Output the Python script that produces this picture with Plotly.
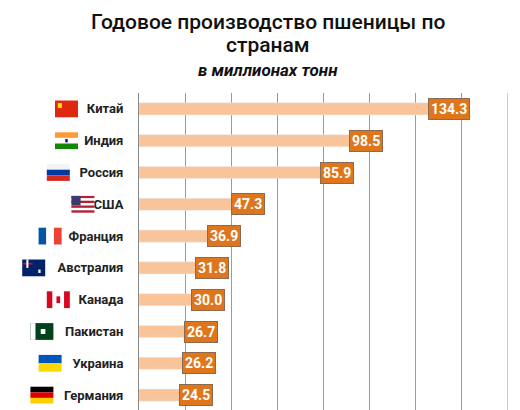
import plotly.graph_objects as go

countries = ["Китай", "Индия", "Россия", "США", "Франция", "Австралия",
             "Канада", "Пакистан", "Украина", "Германия"]
values = [134.3, 98.5, 85.9, 47.3, 36.9, 31.8, 30.0, 26.7, 26.2, 24.5]
flag_kinds = ["cn", "in", "ru", "us", "fr", "au", "ca", "pk", "ua", "de"]

L, R, T, B = 131, 20, 85, 3
W, H = 520, 410
pw = W - L - R
row_px = (H - T - B) / len(countries)

fig = go.Figure(go.Bar(
    x=values, y=countries, orientation="h",
    marker_color="#F9C49A", width=0.38, hoverinfo="skip",
))

for c, v in zip(countries, values):
    fig.add_annotation(x=v, y=c, text="<b>%.1f</b>" % v, showarrow=False,
                       font=dict(color="white", size=14, family="Roboto"),
                       bgcolor="#E0761C", bordercolor="#8a6a50", borderwidth=1,
                       borderpad=2)

def px2x(p):
    return (p - L) / pw

fh = 17 / row_px
fw = 23
def flag(i, name, kind):
    right = 131 - 13 - len(name) * 8.2 - 7
    x0 = right - fw
    y0, y1 = i - fh / 2, i + fh / 2
    def rect(a, b, c, d, col):
        fig.add_shape(type="rect", xref="paper", yref="y",
                      x0=px2x(x0 + a * fw), x1=px2x(x0 + b * fw),
                      y0=y0 + c * (y1 - y0), y1=y0 + d * (y1 - y0),
                      fillcolor=col, line_width=0, layer="above")
    if kind == "cn":
        rect(0, 1, 0, 1, "#DE2910"); rect(0.12, 0.3, 0.15, 0.45, "#FFDE00")
    elif kind == "in":
        rect(0, 1, 0, 1/3, "#FF9933"); rect(0, 1, 1/3, 2/3, "#FFFFFF"); rect(0, 1, 2/3, 1, "#138808")
        rect(0.45, 0.55, 0.4, 0.6, "#000080")
    elif kind == "ru":
        rect(0, 1, 0, 1/3, "#F4F4F4"); rect(0, 1, 1/3, 2/3, "#0039A6"); rect(0, 1, 2/3, 1, "#D52B1E")
    elif kind == "us":
        for k in range(7):
            rect(0, 1, k / 7, (k + 1) / 7, "#B22234" if k % 2 == 0 else "#FFFFFF")
        rect(0, 0.4, 0, 4 / 7, "#3C3B6E")
    elif kind == "fr":
        rect(0, 1/3, 0, 1, "#0055A4"); rect(1/3, 2/3, 0, 1, "#FFFFFF"); rect(2/3, 1, 0, 1, "#EF4135")
    elif kind == "au":
        rect(0, 1, 0, 1, "#012169"); rect(0, 0.45, 0.2, 0.3, "#C8102E"); rect(0.18, 0.27, 0, 0.5, "#FFFFFF")
        rect(0.7, 0.8, 0.6, 0.8, "#FFFFFF")
    elif kind == "ca":
        rect(0, 0.25, 0, 1, "#D80621"); rect(0.25, 0.75, 0, 1, "#FFFFFF"); rect(0.75, 1, 0, 1, "#D80621")
        rect(0.42, 0.58, 0.3, 0.7, "#D80621")
    elif kind == "pk":
        rect(0, 1, 0, 1, "#01411C"); rect(0, 0.22, 0, 1, "#FFFFFF"); rect(0.45, 0.65, 0.35, 0.65, "#FFFFFF")
    elif kind == "ua":
        rect(0, 1, 0, 0.5, "#0057B7"); rect(0, 1, 0.5, 1, "#FFD700")
    elif kind == "de":
        rect(0, 1, 0, 1/3, "#000000"); rect(0, 1, 1/3, 2/3, "#DD0000"); rect(0, 1, 2/3, 1, "#FFCE00")

for i, (c, k) in enumerate(zip(countries, flag_kinds)):
    flag(i, c, k)

cx = 0.5 * W / pw - L / pw
title_font = dict(family="Roboto", size=21, color="#111", weight=500)
fig.add_annotation(text="Годовое производство пшеницы по", xref="paper", yref="paper",
                   x=cx, xanchor="center", y=1, yshift=T - 14,
                   yanchor="middle", showarrow=False, font=title_font)
fig.add_annotation(text="странам", xref="paper", yref="paper",
                   x=cx, xanchor="center", y=1, yshift=T - 37,
                   yanchor="middle", showarrow=False, font=title_font)
fig.add_annotation(text="<b><i>в миллионах тонн</i></b>", xref="paper", yref="paper",
                   x=cx, xanchor="center", y=1, yshift=T - 62,
                   yanchor="middle", showarrow=False,
                   font=dict(family="Roboto", size=17, color="#111"))

fig.update_layout(
    width=W, height=H, margin=dict(l=L, r=R, t=T, b=B),
    paper_bgcolor="white", plot_bgcolor="white", showlegend=False,
    xaxis=dict(range=[0, 160], dtick=20, showticklabels=False, showgrid=True,
               gridcolor="#9a9a9a", gridwidth=1, zeroline=False,
               showline=True, linecolor="#888", mirror=False, ticks="outside",
               ticklen=4, tickcolor="#888", fixedrange=True),
    yaxis=dict(autorange="reversed", showline=True, linecolor="#888",
               ticks="", ticklabelstandoff=12, showgrid=False,
               tickfont=dict(family="Roboto", size=13, color="#222", weight="bold")),
)
fig.add_vline(x=160, line_color="#9a9a9a", line_width=1)

fig.write_html("out.html")
